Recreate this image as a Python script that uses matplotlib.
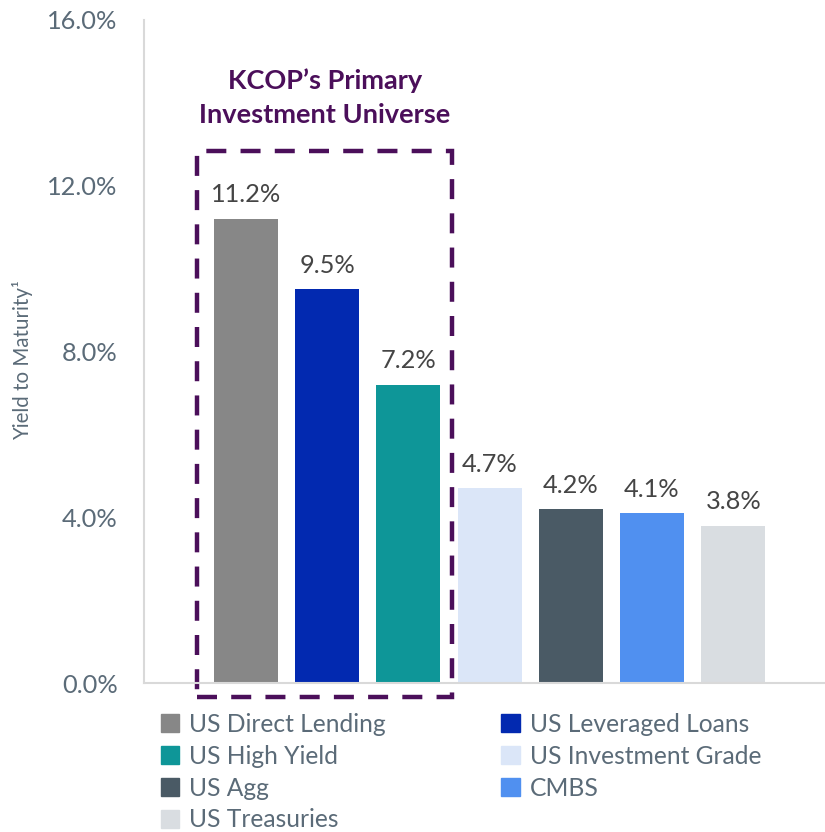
import matplotlib.pyplot as plt
from matplotlib.patches import Rectangle, Patch

categories = ["US Direct Lending", "US Leveraged Loans", "US High Yield",
              "US Investment Grade", "US Agg", "CMBS", "US Treasuries"]
yields = [11.2, 9.5, 7.2, 4.7, 4.2, 4.1, 3.8]
colors = ["#878787", "#0229B0", "#0E9698", "#DBE6F8", "#4A5A65", "#5090F0", "#D9DDE1"]
yticks = [0, 4, 8, 12, 16]

plt.rcParams['font.family'] = ['Lato', 'DejaVu Sans']
tick_col = "#5B6B78"

fig = plt.figure(figsize=(8.25, 8.32), dpi=100)
ax = fig.add_axes([0.1745, 0.179, 0.8255, 0.797])

x = list(range(len(categories)))
ax.bar(x, yields, width=0.79, color=colors)

for xi, v in zip(x, yields):
    ax.annotate(f"{v:.1f}%", (xi, v), xytext=(0, 9), textcoords="offset points",
                ha="center", va="bottom", fontsize=18.3, color="#454545")

ax.set_xlim(-1.256, 7.13)
ax.set_ylim(0, 16)
ax.set_yticks(yticks)
ax.set_yticklabels([f"{t:.1f}%" for t in yticks], fontsize=18.3, color=tick_col)
ax.set_xticks([])
ax.tick_params(axis='y', length=0, pad=19)
for s in ["top", "right"]:
    ax.spines[s].set_visible(False)
for s in ["left", "bottom"]:
    ax.spines[s].set_color("#D9D9D9")
    ax.spines[s].set_linewidth(1.5)

ax.set_ylabel("Yield to Maturity\u00b9", fontsize=14.8, color=tick_col)
ax.yaxis.set_label_coords(-0.163, 0.487)

# highlighted box around primary universe
box = Rectangle((-0.60, -0.34), 3.14, 13.18, fill=False, edgecolor="#4B0F5A",
                linewidth=3.2, linestyle=(0, (4.5, 3.2)), clip_on=False)
ax.add_patch(box)
ax.text(0.97, 14.12, "KCOP\u2019s Primary\nInvestment Universe", ha="center", va="center",
        fontsize=19.5, fontweight="bold", color="#4B0F5A", linespacing=1.5)

# legend, row-major order in two columns
handles = [Patch(color=c) for c in colors]
order = [0, 2, 4, 6, 1, 3, 5]
fig.legend([handles[i] for i in order], [categories[i] for i in order],
           ncol=2, loc="upper left", bbox_to_anchor=(0.18, 0.158), frameon=False,
           prop={"size": 17.7}, labelcolor=tick_col,
           handlelength=0.75, handleheight=0.75,
           handletextpad=0.4, columnspacing=4.7, labelspacing=0.36, borderpad=0)

fig.savefig("out.png", dpi=100)
